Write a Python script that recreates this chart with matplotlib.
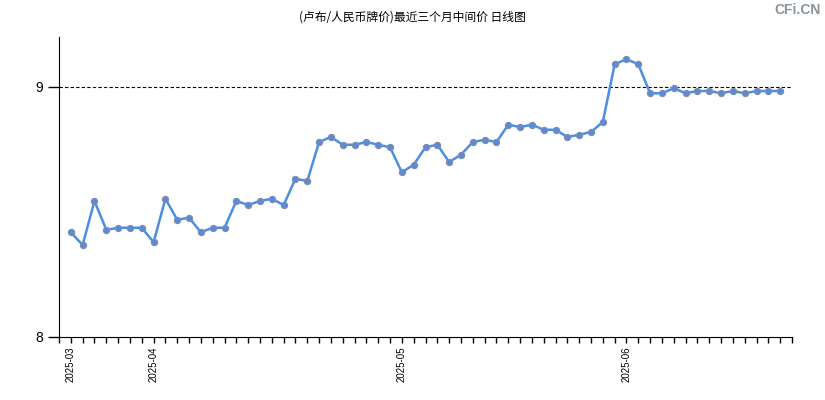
import matplotlib.pyplot as plt
import numpy as np

plt.rcParams['font.family'] = ['Liberation Sans', 'Noto Sans CJK SC', 'DejaVu Sans']

# daily mid price, RUB/CNY (per 100 RUB), last three months
prices = [8.419, 8.368, 8.544, 8.429, 8.437, 8.437, 8.437,
          8.379, 8.553, 8.469, 8.477, 8.419, 8.437, 8.437, 8.544, 8.528, 8.544,
          8.553, 8.528, 8.633, 8.624, 8.780, 8.800, 8.769, 8.769, 8.780, 8.769, 8.759,
          8.659, 8.689, 8.759, 8.769, 8.700, 8.729, 8.780, 8.789, 8.780, 8.849,
          8.840, 8.849, 8.829, 8.829, 8.800, 8.809, 8.820, 8.860, 9.091,
          9.111, 9.091, 8.975, 8.975, 8.995, 8.975, 8.984, 8.984, 8.975,
          8.984, 8.975, 8.984, 8.984, 8.984]
month_labels = ["2025-03", "2025-04", "2025-05", "2025-06"]
month_start = [0, 7, 28, 47]   # index of first trading day in each month

x = np.arange(len(prices))

fig = plt.figure(figsize=(8.25, 4), dpi=100)
ax = fig.add_axes([59/825, 63/400, (792-59)/825, 300/400])

ax.plot(x, prices, color="#4a8fe2", lw=1.8, marker="o", ms=4.5,
        mfc="#5a8ad8", mec="#7f8fa8", mew=0.8, zorder=3)
ax.axhline(9, color="black", lw=0.8, ls=(0, (3, 2)), zorder=2)

ax.set_xlim(-1, len(prices))
ax.set_ylim(8, 9.2)
ax.set_yticks([8, 9])
ax.set_yticklabels(["8", "9"], fontsize=10)
ax.tick_params(axis="y", length=8, width=1)

ax.set_xticks(np.arange(-1, len(prices) + 1))
labels = [""] * (len(prices) + 2)
for lab, i in zip(month_labels, month_start):
    labels[i + 1] = lab
ax.set_xticklabels(labels, rotation=90, fontsize=7)
ax.tick_params(axis="x", length=4, width=1, pad=3)

for s in ["top", "right"]:
    ax.spines[s].set_visible(False)

fig.text(0.5, 0.957, "(卢布/人民币牌价)最近三个月中间价 日线图", ha="center", va="center",
         fontsize=8.5, family=["Noto Sans CJK SC", "DejaVu Sans"])
fig.text(0.995, 0.975, "CFi.CN", ha="right", va="center", fontsize=10,
         fontweight="bold", color="#8c939b")

fig.savefig("out.png", dpi=100)
